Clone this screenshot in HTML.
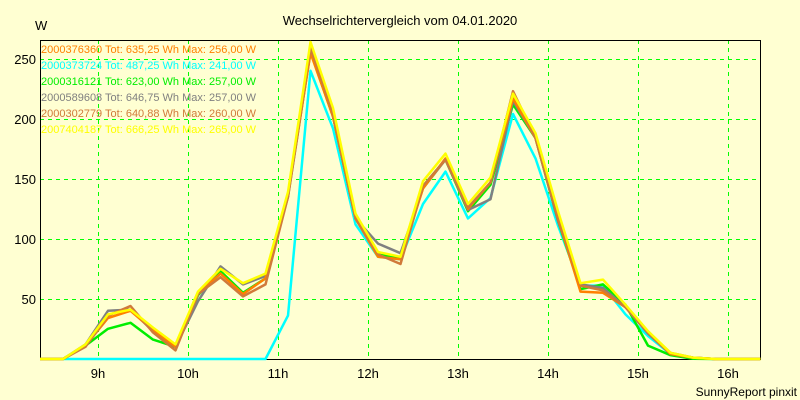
<!DOCTYPE html>
<html><head><meta charset="utf-8"><style>
body{margin:0;background:#ffffd2;}
svg{display:block;font-family:"Liberation Sans",sans-serif;}
</style></head><body>
<svg id="chart" width="800" height="400" xmlns="http://www.w3.org/2000/svg">
<rect width="800" height="400" fill="#ffffd2"/>
<text x="400" y="25" text-anchor="middle" font-size="13" fill="#000">Wechselrichtervergleich vom 04.01.2020</text>
<text x="35" y="30" font-size="13" fill="#000">W</text>
<text x="797" y="396" text-anchor="end" font-size="12" fill="#000">SunnyReport pinxit</text>
<g id="grid"></g><g id="axes"></g><g id="series"></g><g id="legend"></g>
</svg>
<script>
const yTicks=[50,100,150,200,250];
const xTickLabels=["9h","10h","11h","12h","13h","14h","15h","16h"];
const xTickHours=[9,10,11,12,13,14,15,16];
const seriesNames=["2000376360","2000373724","2000316121","2000589608","2000302779","2007404187"];
const seriesInfo=["Tot: 635,25 Wh Max: 256,00 W","Tot: 487,25 Wh Max: 241,00 W","Tot: 623,00 Wh Max: 257,00 W","Tot: 646,75 Wh Max: 257,00 W","Tot: 640,88 Wh Max: 260,00 W","Tot: 666,25 Wh Max: 265,00 W"];
const sOrange=[0,12,35,41,25,11,55,72,55,68,138,256,203,118,86,84,143,168,126,148,218,185,118,57,56,44,23,5,2,0,0,0];
const sCyan=[0,0,0,0,0,0,0,0,0,0,37,241,193,113,86,84,130,157,118,135,205,168,112,62,62,38,20,5,2,0,0,0];
const sGreen=[0,12,26,31,17,11,54,74,56,68,138,257,203,118,88,85,145,167,124,146,213,185,116,59,63,46,12,4,1,0,0,0];
const sGray=[0,13,41,42,24,11,49,78,63,70,136,257,203,118,97,89,143,167,125,134,216,185,116,63,60,44,22,5,2,0,0,0];
const sBrown=[0,11,37,45,23,8,55,69,53,63,136,260,205,118,88,80,145,167,127,148,224,185,118,62,58,44,23,6,2,0,0,0];
const sYellow=[0,13,38,42,27,13,57,76,64,72,140,265,210,122,90,86,149,172,130,152,222,189,124,64,67,46,24,6,2,0,0,0];
const seriesData=[sOrange,sCyan,sGreen,sGray,sBrown,sYellow];
const seriesColors=["#ff8000","#00ffff","#00ee00","#808080","#d07a3a","#ffff00"];
const NS="http://www.w3.org/2000/svg";
const L=40,R=760,T=40,B=359;
function yS(v){return 360-v*1.2;}
function xH(h){return 98+(h-9)*90;}
function xI(i){return 63+i*22.5;}
function mk(tag,attrs,parent){const e=document.createElementNS(NS,tag);for(const k in attrs)e.setAttribute(k,attrs[k]);parent.appendChild(e);return e;}
const grid=document.getElementById('grid'),axes=document.getElementById('axes'),ser=document.getElementById('series'),leg=document.getElementById('legend');
yTicks.forEach(v=>{
 const l=mk('line',{x1:L,x2:R,y1:yS(v)-0.5,y2:yS(v)-0.5,stroke:'#00ff00','stroke-dasharray':'4,4','shape-rendering':'crispEdges'},grid);
 
 
 const t=mk('text',{x:36,y:yS(v)+4,'text-anchor':'end','font-size':13,fill:'#000'},axes);
 t.textContent=v;
 
 
});
xTickHours.forEach((h,i)=>{
 const l=mk('line',{x1:xH(h)+0.5,x2:xH(h)+0.5,y1:T,y2:B,stroke:'#00ff00','stroke-dasharray':'4,4','shape-rendering':'crispEdges'},grid);
 
 
 const t=mk('text',{x:xH(h),y:378,'text-anchor':'middle','font-size':13,fill:'#000'},axes);
 t.textContent=xTickLabels[i];
 
 
});
const frame=mk('path',{d:`M${L+0.5},${B+0.5}V${T+0.5}H${R+0.5}V${B+0.5}H${L}`,fill:'none',stroke:'#000','stroke-width':1,'shape-rendering':'crispEdges'},axes);


const order=[1,2,3,0,4,5];
order.forEach(s=>{
 const d=seriesData[s];
 let p=`M${L},${yS(0)-1}`;
 d.forEach((v,i)=>{p+=`L${xI(i)},${Math.min(yS(v),359)}`;});
 const e=mk('path',{d:p,fill:'none',stroke:seriesColors[s],'stroke-width':2.5,'stroke-linejoin':'round'},ser);
 
 
});
seriesNames.forEach((n,s)=>{
 const t=mk('text',{x:41,y:53+s*16,'font-size':11,fill:seriesColors[s]},leg);
 t.textContent=n+" "+seriesInfo[s];
 
 
});
</script>
</body></html>
